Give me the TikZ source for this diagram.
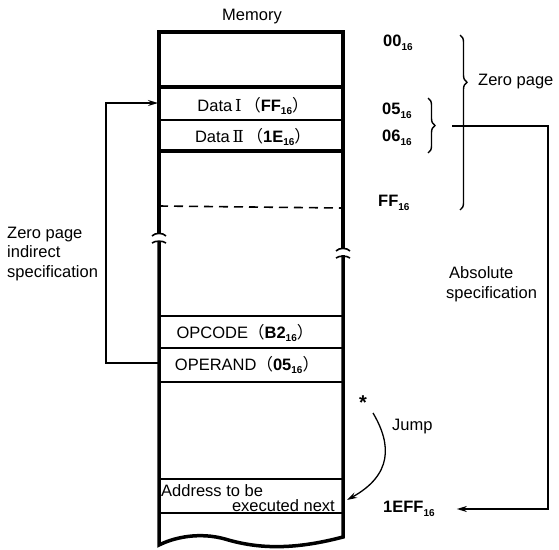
\documentclass[tikz,border=0pt]{standalone}
\usepackage{fontspec}
\setmainfont{Liberation Sans}
\newfontfamily\cjk{Noto Sans CJK JP}
\newfontfamily\romnum{DejaVu Serif}
\usetikzlibrary{arrows.meta,decorations.pathreplacing}
\newcommand\hx[1]{\textbf{#1\raisebox{-0.22em}{\fontsize{10}{10}\selectfont 16}}}
\begin{document}
\begin{tikzpicture}[x=1pt,y=-1pt,
  txt/.style={font=\fontsize{16.5}{19.5}\selectfont, inner sep=0pt},
  edgeline/.style={line width=3.5pt},
  thickrow/.style={line width=3.5pt},
  thinrow/.style={line width=1.6pt},
  conn/.style={line width=1.3pt},
  arr/.style={conn,-{Stealth[length=10pt,width=6pt]}},
  brc/.style={line width=1.4pt, decorate, decoration={brace, amplitude=7pt, aspect=#1}},
  brc/.default=0.5]
\useasboundingbox (0,0) rectangle (559,549);
% memory column
\draw[edgeline] (159,233) -- (159,32) -- (343,32) -- (343,248);
\draw[edgeline] (159,242) -- (159,545) .. controls (175,537) and (200,532) .. (225,539)
   .. controls (255,548) and (290,551) .. (343,537) -- (343,255);
% break marks
\draw[line width=1.6pt] (152,236) .. controls (155,232.5) and (163,232.5) .. (166,236);
\draw[line width=1.6pt] (152,243) .. controls (155,240.5) and (163,240.5) .. (166,243);
\draw[line width=1.6pt] (336,251) .. controls (339,247.5) and (347,247.5) .. (350,251);
\draw[line width=1.6pt] (336,258) .. controls (339,255.5) and (347,255.5) .. (350,258);
% rows
\draw[thickrow] (159,87) -- (343,87);
\draw[thinrow] (159,120) -- (343,120);
\draw[thickrow] (159,151) -- (343,151);
\draw[thinrow, dashed, dash pattern=on 9pt off 6pt] (159,206) -- (343,208);
\draw[thinrow] (159,316) -- (343,316);
\draw[thinrow] (159,348) -- (343,348);
\draw[thinrow] (159,382) -- (343,382);
\draw[thinrow] (159,479) -- (343,479);
\draw[thinrow] (159,513) -- (343,513);
% texts
\node[txt] (mem) at (252,17) {Memory};
\node[txt] (d1) at (253,106) {Data\,{\romnum Ⅰ}\,{\cjk （}\hx{FF}{\cjk ）}};
\node[txt] (d2) at (253,137) {Data\,{\romnum Ⅱ}\,{\cjk （}\hx{1E}{\cjk ）}};
\node[txt] (opc) at (245,333) {OPCODE{\cjk （}\hx{B2}{\cjk ）}};
\node[txt] (opr) at (247,365) {OPERAND{\cjk （}\hx{05}{\cjk ）}};
\node[txt, anchor=west] (adr1) at (161,491) {Address to be};
\node[txt, anchor=east] (adr2) at (335,506) {executed next};
% right labels
\node[txt, anchor=west] (a00) at (383,43) {\hx{00}};
\node[txt, anchor=west] (a05) at (382,111) {\hx{05}};
\node[txt, anchor=west] (a06) at (382,138) {\hx{06}};
\node[txt, anchor=west] (aff) at (378,203) {\hx{FF}};
\node[txt, anchor=west] (aeff) at (383,509) {\hx{1EFF}};
\node[txt, anchor=west] (zp) at (478,82) {Zero page};
\node[txt, anchor=west, align=left] (zpi) at (7,254) {Zero page\\indirect\\specification};
\node[txt, anchor=west, align=left] (abs) at (446,284) {\hspace*{3pt}Absolute\\specification};
\node[txt, anchor=west] (jmp) at (392,427) {Jump};
\node[font=\fontsize{20}{20}\selectfont\bfseries, inner sep=0pt] (star) at (363,403) {*};
% braces
\draw[brc=0.27] (460,35) -- (460,210);
\draw[brc=0.5] (428,98) -- (428,153);
% connectors
\coordinate (opL) at (158,363);
\coordinate (d1L) at (158,103);
\draw[arr] (opL) -- ++(-52,0) |- (d1L);
\coordinate (absS) at (452,126);
\draw[arr] (absS) -- (548,126) |- ([xshift=22pt]aeff.east);
\coordinate (jS) at (373,413);
\coordinate (jE) at (347,500);
\draw[arr] (jS) .. controls (392,445) and (392,475) .. (jE);
\end{tikzpicture}
\end{document}
